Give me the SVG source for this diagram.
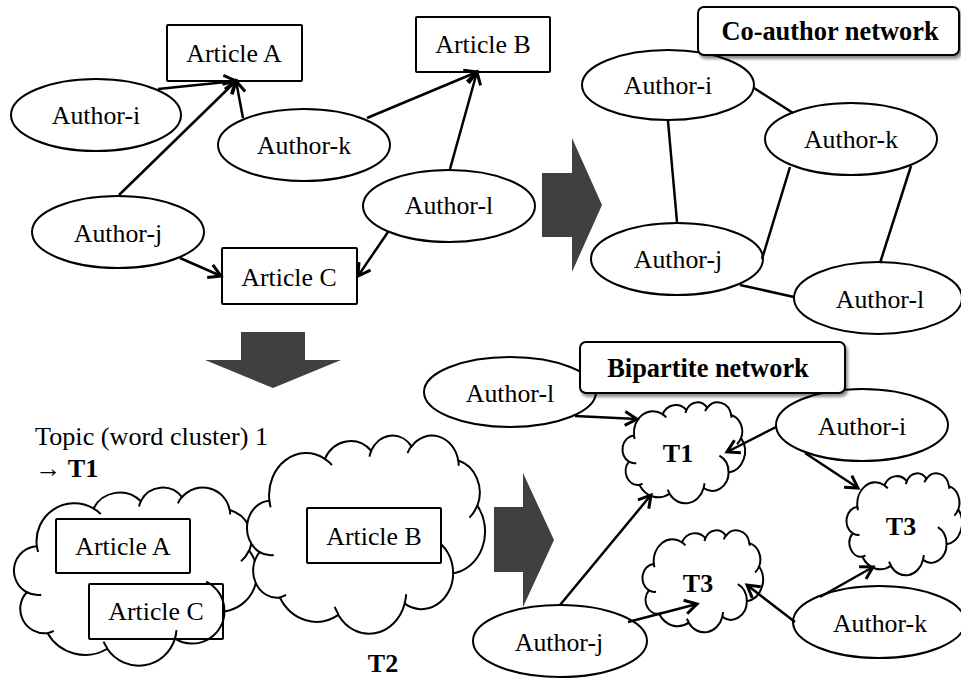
<svg xmlns="http://www.w3.org/2000/svg" width="961" height="679" viewBox="0 0 961 679" font-family="'Liberation Serif', 'Times New Roman', serif">
<defs>
<style>
  text { font-family: "Liberation Serif", "Times New Roman", serif; fill: #000; }
  .lbl { font-size: 25.8px; text-anchor: middle; }
  .tlbl { font-size: 26px; font-weight: bold; text-anchor: middle; }
  .title { font-size: 26.4px; font-weight: bold; text-anchor: middle; }
  .note { font-size: 26.2px; }
  .node { fill: #fff; stroke: #000; stroke-width: 2; }
  .tag { fill: #fff; stroke: #000; stroke-width: 2; filter: url(#shadow); }
  .edge { fill: none; stroke: #000; stroke-width: 2.5; }
  .arr { marker-end: url(#arrow); }
  .big { fill: #404040; }
  .cloud-fill { fill: #fff; stroke: none; }
  .cloud-line { fill: none; stroke: #000; stroke-width: 2; }
</style>
<marker id="arrow" markerUnits="userSpaceOnUse" viewBox="-15 -9 17 18" refX="0" refY="0" markerWidth="17" markerHeight="18" orient="auto" overflow="visible">
  <path d="M-12,-7 L0,0 L-12,7" fill="none" stroke="#000" stroke-width="3"/>
</marker>
<filter id="shadow" x="-10%" y="-20%" width="130%" height="160%">
  <feDropShadow dx="2" dy="3" stdDeviation="1.5" flood-color="#000" flood-opacity="0.45"/>
</filter>
<!-- cloud shape in a 100 x 100 box -->
<path id="cloud-outline" vector-effect="non-scaling-stroke" d="M9.03,33.26 A15.63,21.27 0 0 1 32.41,12.03 A12.34,16.82 0 0 1 51.97,7.94 A10.10,13.76 0 0 1 69.04,5.73 A11.24,15.27 0 0 1 88.69,12.89 A12.34,16.84 0 0 1 96.79,35.77 A15.68,21.34 0 0 1 86.57,69.89 A13.39,18.21 0 0 1 66.09,85.19 A15.63,21.33 0 0 1 38.13,90.87 A17.87,24.41 0 0 1 13.42,82.09 A10.09,13.70 0 0 1 4.88,59.13 A10.06,13.76 0 0 1 9.03,33.26 Z"/>
<path id="cloud-inner" vector-effect="non-scaling-stroke" d="M10.86,60.59 A10.06,13.76 0 0 1 4.88,59.13 M16.04,80.78 A10.09,13.70 0 0 1 13.42,82.09 M38.14,90.49 A15.63,21.33 0 0 1 36.59,86.84 M66.73,80.44 A15.63,21.33 0 0 1 66.09,85.19 M79.00,53.13 A13.39,18.21 0 0 1 86.53,69.65 M96.75,35.54 A12.34,16.84 0 0 1 93.40,41.74 M88.71,12.56 A11.24,15.27 0 0 1 88.89,15.49 M67.31,9.15 A11.24,15.27 0 0 1 69.03,5.42 M51.25,10.93 A10.10,13.76 0 0 1 52.08,7.71 M32.41,12.02 A15.63,21.27 0 0 1 35.43,15.15 M9.55,36.55 A15.63,21.27 0 0 1 9.03,33.27"/>
</defs>

<rect width="961" height="679" fill="#fff"/>

<!-- block arrows between the stages -->
<g id="stage-arrows">
  <path class="big" d="M542,173 L572,173 L572,138 L602,205 L572,272 L572,237 L542,237 Z"/>
  <path class="big" d="M241,332 L305,332 L305,360 L341,360 L273,388 L205,360 L241,360 Z"/>
  <path class="big" d="M494,507 L523,507 L523,473 L554,540 L523,607 L523,572 L494,572 Z"/>
</g>

<!-- authorship graph -->
<g id="art-a"><rect class="node" x="167" y="25" width="135" height="56" rx="1"/><text class="lbl" x="234" y="62">Article A</text></g>
<g id="art-b"><rect class="node" x="416" y="17" width="134" height="55" rx="1"/><text class="lbl" x="483" y="53">Article B</text></g>
<g id="art-c"><rect class="node" x="222" y="248" width="135" height="56" rx="1"/><text class="lbl" x="289" y="286">Article C</text></g>
<g id="auth-i"><ellipse class="node" cx="96" cy="115" rx="85" ry="36"/><text class="lbl" x="96" y="124">Author-i</text></g>
<g id="auth-k"><ellipse class="node" cx="304" cy="145" rx="86" ry="36"/><text class="lbl" x="304" y="154">Author-k</text></g>
<g id="auth-j"><ellipse class="node" cx="118" cy="232" rx="86" ry="36"/><text class="lbl" x="118" y="242">Author-j</text></g>
<g id="auth-l"><ellipse class="node" cx="449" cy="206" rx="86" ry="36"/><text class="lbl" x="449" y="214">Author-l</text></g>

<!-- co-author network -->
<g id="co-i"><ellipse class="node" cx="668" cy="85" rx="86" ry="35"/><text class="lbl" x="668" y="94">Author-i</text></g>
<g id="co-k"><ellipse class="node" cx="851" cy="139" rx="86" ry="36"/><text class="lbl" x="851" y="148">Author-k</text></g>
<g id="co-j"><ellipse class="node" cx="677" cy="259" rx="86" ry="36"/><text class="lbl" x="678" y="268">Author-j</text></g>
<g id="co-l"><ellipse class="node" cx="878" cy="298" rx="84" ry="36"/><text class="lbl" x="880" y="308">Author-l</text></g>

<!-- topic clusters -->
<g id="topic-note">
  <text class="note" x="35" y="445">Topic (word cluster) 1</text>
  <text class="note" x="35" y="477">→ <tspan font-weight="bold">T1</tspan></text>
</g>
<g id="cluster-t1">
  <use href="#cloud-outline" class="cloud-fill" transform="translate(15,487) scale(2.42,1.78)"/>
  <rect class="node" x="56" y="519" width="134" height="54" rx="1"/>
  <text class="lbl" x="123" y="555">Article A</text>
  <rect class="node" x="89" y="584" width="134" height="55" rx="1"/>
  <text class="lbl" x="156" y="620">Article C</text>
  <use href="#cloud-outline" class="cloud-line" transform="translate(15,487) scale(2.42,1.78)"/>
  <use href="#cloud-inner" class="cloud-line" transform="translate(15,487) scale(2.42,1.78)"/>
</g>
<g id="cluster-t2">
  <use href="#cloud-outline" class="cloud-fill" transform="translate(248,435) scale(2.37,1.98)"/>
  <use href="#cloud-outline" class="cloud-line" transform="translate(248,435) scale(2.37,1.98)"/>
  <use href="#cloud-inner" class="cloud-line" transform="translate(248,435) scale(2.37,1.98)"/>
  <rect class="node" x="307" y="508" width="134" height="55" rx="1"/>
  <text class="lbl" x="374" y="545">Article B</text>
  <text class="tlbl" x="383" y="672">T2</text>
</g>

<!-- bipartite network -->
<g id="bi-t1">
  <use href="#cloud-outline" class="cloud-fill" transform="translate(623,402) scale(1.22,1.01)"/>
  <use href="#cloud-outline" class="cloud-line" transform="translate(623,402) scale(1.22,1.01)"/>
  <use href="#cloud-inner" class="cloud-line" transform="translate(623,402) scale(1.22,1.01)"/>
  <text class="tlbl" x="678" y="462">T1</text>
</g>
<g id="bi-t3a">
  <use href="#cloud-outline" class="cloud-fill" transform="translate(643,530) scale(1.20,1.02)"/>
  <use href="#cloud-outline" class="cloud-line" transform="translate(643,530) scale(1.20,1.02)"/>
  <use href="#cloud-inner" class="cloud-line" transform="translate(643,530) scale(1.20,1.02)"/>
  <text class="tlbl" x="698" y="592">T3</text>
</g>
<g id="bi-t3b">
  <use href="#cloud-outline" class="cloud-fill" transform="translate(847,473) scale(1.15,1.02)"/>
  <use href="#cloud-outline" class="cloud-line" transform="translate(847,473) scale(1.15,1.02)"/>
  <use href="#cloud-inner" class="cloud-line" transform="translate(847,473) scale(1.15,1.02)"/>
  <text class="tlbl" x="901" y="535">T3</text>
</g>
<g id="bi-l"><ellipse class="node" cx="510" cy="392" rx="86" ry="35"/><text class="lbl" x="510" y="402">Author-l</text></g>
<g id="bi-i"><ellipse class="node" cx="862" cy="425" rx="86" ry="36"/><text class="lbl" x="862" y="435">Author-i</text></g>
<g id="bi-j"><ellipse class="node" cx="560" cy="641" rx="87" ry="36"/><text class="lbl" x="559" y="651">Author-j</text></g>
<g id="bi-k"><ellipse class="node" cx="879" cy="622" rx="86" ry="36"/><text class="lbl" x="880" y="632">Author-k</text></g>

<!-- connectors -->
<g id="connectors">
  <!-- authorship -->
  <line class="edge arr" x1="158" y1="89" x2="236" y2="81"/>
  <line class="edge arr" x1="119" y1="195" x2="236" y2="81"/>
  <line class="edge arr" x1="243" y1="118" x2="236" y2="81"/>
  <line class="edge arr" x1="367" y1="118" x2="477" y2="72"/>
  <line class="edge arr" x1="450" y1="169" x2="477" y2="72"/>
  <line class="edge arr" x1="180" y1="258" x2="221" y2="276"/>
  <line class="edge arr" x1="388" y1="232" x2="358" y2="276"/>
  <!-- co-author links -->
  <line class="edge" x1="754" y1="88" x2="793" y2="113"/>
  <line class="edge" x1="668" y1="121" x2="677" y2="222"/>
  <line class="edge" x1="790" y1="167" x2="762" y2="259"/>
  <line class="edge" x1="911" y1="166" x2="880" y2="263"/>
  <line class="edge" x1="740" y1="285" x2="794" y2="297"/>
  <!-- author to topic -->
  <line class="edge arr" x1="575" y1="416" x2="637" y2="419"/>
  <line class="edge arr" x1="776" y1="427" x2="727" y2="452"/>
  <line class="edge arr" x1="560" y1="605" x2="651" y2="495"/>
  <line class="edge arr" x1="628" y1="622" x2="697" y2="604"/>
  <line class="edge arr" x1="795" y1="622" x2="747" y2="585"/>
  <line class="edge arr" x1="805" y1="453" x2="858" y2="488"/>
  <line class="edge arr" x1="820" y1="597" x2="873" y2="567"/>
</g>

<!-- network titles -->
<g id="co-title"><rect class="tag" x="698" y="7" width="261" height="48" rx="6"/><text class="title" x="830" y="40">Co-author network</text></g>
<g id="bi-title"><rect class="tag" x="580" y="342" width="265" height="51" rx="6"/><text class="title" x="708" y="377">Bipartite network</text></g>
</svg>
